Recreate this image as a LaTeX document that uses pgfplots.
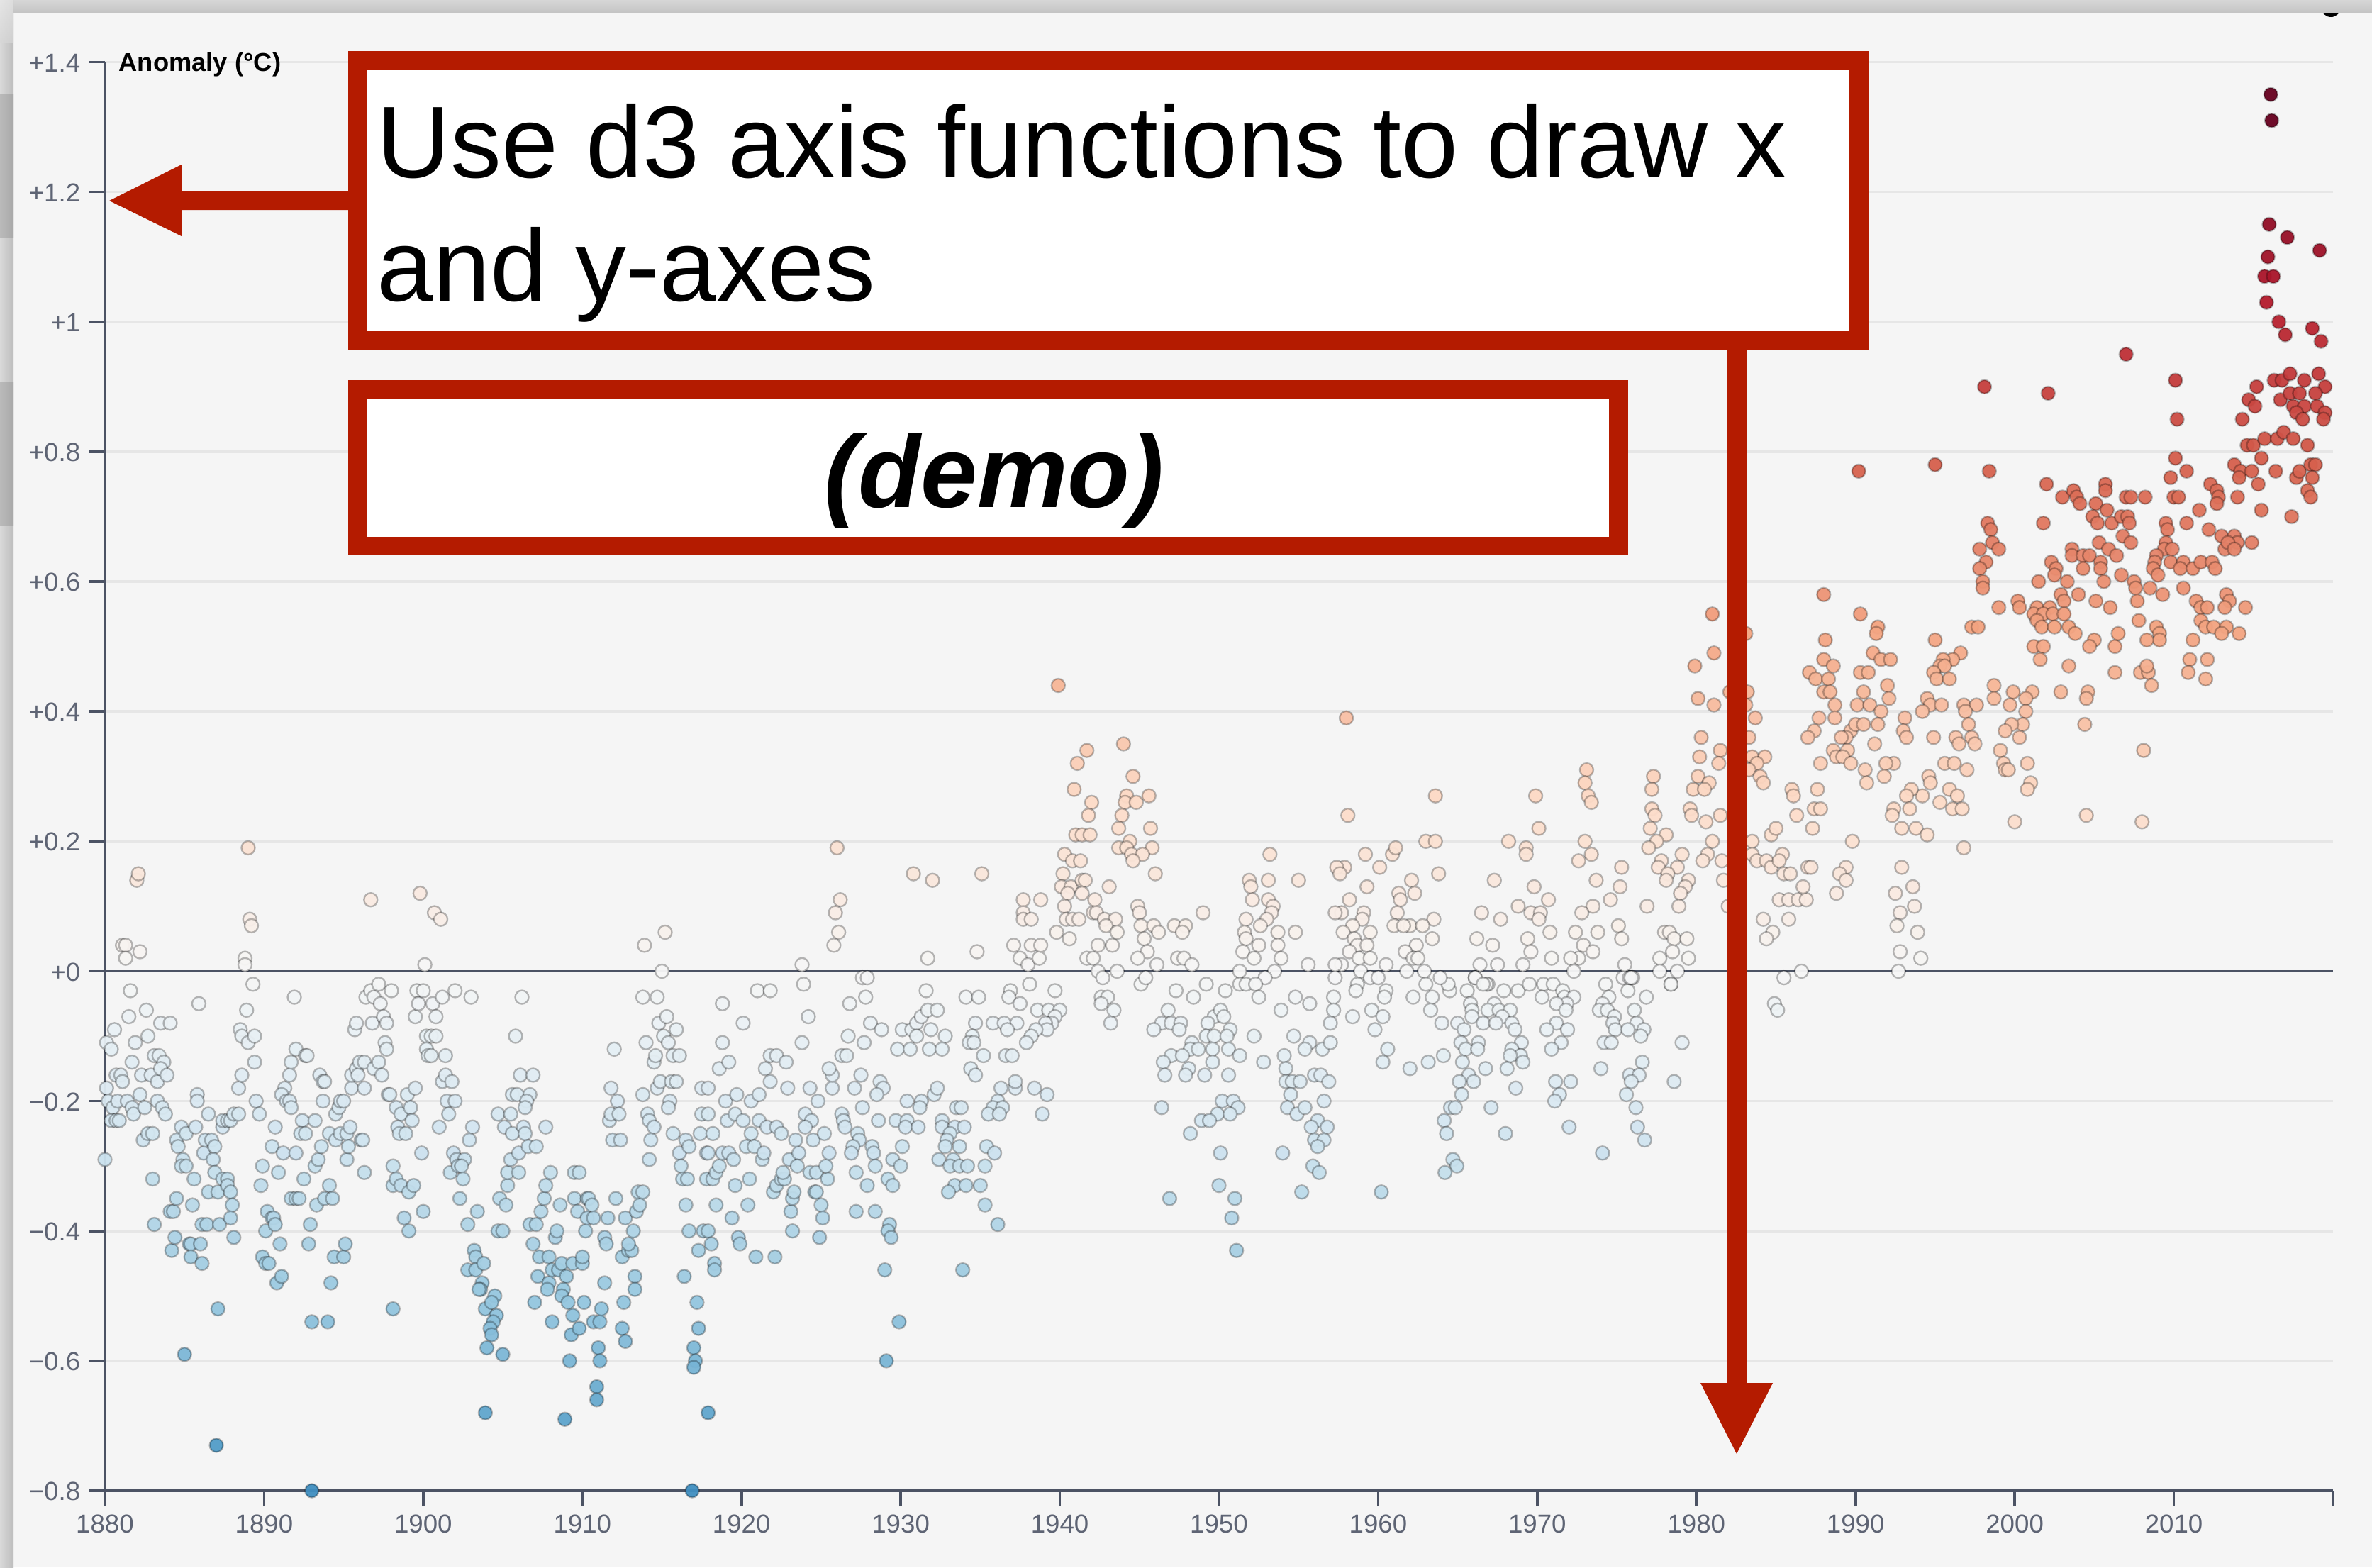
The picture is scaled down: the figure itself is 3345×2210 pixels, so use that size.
\documentclass[border=0pt]{standalone}
\usepackage{pgfplots}
\pgfplotsset{compat=1.18}
\usepackage{fontspec}
\setmainfont{Liberation Sans}
\definecolor{panel}{HTML}{F5F5F5}
\definecolor{axc}{HTML}{4C5364}
\definecolor{gridc}{HTML}{E6E6E6}
\definecolor{annot}{HTML}{B41B00}
\begin{document}
\begin{tikzpicture}[x=0.3pt,y=-0.3pt]
\path[use as bounding box] (0,0) rectangle (3345,2210);
\clip (0,0) rectangle (3345,2210);
\fill[panel] (0,0) rectangle (3345,2210);
\fill[black] (3287,10) circle (14);
\shade[top color=white!84!black,bottom color=white!77!black] (0,0) rectangle (3345,17);
\shade[left color=white!85!black,right color=white!74!black] (0,0) rectangle (19,2210);
\shade[left color=white!73!black,right color=white!66!black] (0,133) rectangle (19,335);
\shade[left color=white!73!black,right color=white!66!black] (0,538) rectangle (19,741);
\shade[top color=white!92!black,bottom color=white!84!black,opacity=0.7] (0,0) rectangle (19,60);
\begin{axis}[
  at={(44.4pt,-630.6pt)}, anchor=south west, scale only axis,
  width=942.6pt, height=604.35pt,
  xmin=1880, xmax=2020, ymin=-0.8, ymax=1.4,
  axis x line*=bottom, axis y line*=left,
  axis line style={axc,line width=1.1pt,-},
  xtick={1880,1890,1900,1910,1920,1930,1940,1950,1960,1970,1980,1990,2000,2010,2020},
  xticklabels={1880,1890,1900,1910,1920,1930,1940,1950,1960,1970,1980,1990,2000,2010,{}},
  ytick={-0.8,-0.6,-0.4,-0.2,0,0.2,0.4,0.6,0.8,1,1.2,1.4},
  yticklabels={−0.8,−0.6,−0.4,−0.2,+0,+0.2,+0.4,+0.6,+0.8,+1,+1.2,+1.4},
  tick align=outside, major tick length=6.6pt,
  tick style={axc,line width=1.1pt},
  ticklabel style={font=\fontsize{11}{12}\selectfont,text=axc!90!white},
  xticklabel style={yshift=0pt}, yticklabel style={xshift=-0.3pt,yshift=-0.3pt},
  ymajorgrids, grid style={gridc,line width=1.1pt},
  clip=false,
  colormap={rdbu}{rgb255(0cm)=(5,48,97); rgb255(1cm)=(33,102,172); rgb255(2cm)=(67,147,195); rgb255(3cm)=(146,197,222); rgb255(4cm)=(209,229,240); rgb255(5cm)=(247,247,247); rgb255(6cm)=(253,219,199); rgb255(7cm)=(244,165,130); rgb255(8cm)=(214,96,77); rgb255(9cm)=(178,24,43); rgb255(10cm)=(103,0,31)},
  point meta min=-1.3, point meta max=1.3,
]
\addplot[axc,line width=1.1pt,no marks,forget plot] coordinates {(1880,0)(2020,0)};
\addplot[scatter,only marks,mark=*,mark size=2.85pt,point meta=y,
  scatter/use mapped color={draw=black,draw opacity=0.27,fill=mapped color,fill opacity=0.95},
  mark options={line width=0.7pt}] coordinates {
(1880.0,-0.29)(1880.1,-0.18)(1880.1,-0.11)(1880.4,-0.12)(1880.2,-0.20)(1880.5,-0.21)(1880.4,-0.23)(1880.6,-0.09)(1880.7,-0.23)(1880.9,-0.23)(1880.8,-0.20)
(1880.7,-0.16)(1881.0,-0.16)(1881.1,-0.17)(1881.1,0.04)(1881.3,0.04)(1881.3,0.02)(1881.5,-0.07)(1881.6,-0.03)(1881.7,-0.14)(1881.9,-0.11)(1881.4,-0.20)(1881.7,-0.21)(1881.8,-0.22)
(1882.0,0.14)(1882.1,0.15)(1882.2,0.03)(1882.6,-0.06)(1882.7,-0.10)(1882.3,-0.16)(1882.2,-0.19)(1882.5,-0.21)(1882.4,-0.26)(1882.7,-0.25)(1883.0,-0.25)(1882.9,-0.16)
(1883.0,-0.32)(1883.1,-0.39)(1883.1,-0.13)(1883.4,-0.13)(1883.5,-0.08)(1883.3,-0.17)(1883.3,-0.20)(1883.6,-0.21)(1883.8,-0.22)(1883.7,-0.14)(1883.5,-0.15)(1883.9,-0.16)(1884.1,-0.08)
(1884.1,-0.37)(1884.3,-0.37)(1884.5,-0.35)(1884.2,-0.43)(1884.4,-0.41)(1884.8,-0.24)(1884.5,-0.26)(1884.6,-0.27)(1884.9,-0.29)(1884.8,-0.30)(1885.1,-0.30)(1885.1,-0.25)(1885.6,-0.32)
(1885.0,-0.59)(1885.3,-0.42)(1885.4,-0.42)(1885.4,-0.44)(1885.5,-0.36)(1885.7,-0.24)(1885.8,-0.19)(1885.8,-0.20)(1885.9,-0.05)(1886.0,-0.42)
(1886.1,-0.39)(1886.4,-0.39)(1886.1,-0.45)(1886.2,-0.28)(1886.3,-0.26)(1886.7,-0.26)(1886.5,-0.22)(1886.9,-0.27)(1886.8,-0.29)(1886.9,-0.31)(1886.5,-0.34)
(1887.1,-0.52)(1887.0,-0.73)(1887.1,-0.34)(1887.2,-0.39)(1887.4,-0.32)(1887.7,-0.32)(1887.4,-0.24)(1887.4,-0.23)(1887.7,-0.23)(1887.9,-0.23)(1888.1,-0.22)(1888.4,-0.22)(1887.7,-0.33)(1887.9,-0.34)(1888.0,-0.36)(1887.9,-0.38)(1888.1,-0.41)
(1888.4,-0.18)(1888.6,-0.16)(1888.5,-0.09)(1888.6,-0.10)(1889.0,-0.11)(1888.9,-0.06)(1888.8,0.02)(1888.8,0.01)
(1889.0,0.19)(1889.1,0.08)(1889.2,0.07)(1889.3,-0.02)(1889.4,-0.10)(1889.4,-0.14)(1889.5,-0.20)(1889.7,-0.22)(1889.8,-0.33)(1889.9,-0.30)
(1890.1,-0.40)(1889.9,-0.44)(1890.1,-0.45)(1890.3,-0.45)(1890.2,-0.37)(1890.5,-0.38)(1890.6,-0.38)(1890.7,-0.39)(1890.5,-0.27)(1890.7,-0.24)(1890.9,-0.31)(1891.0,-0.42)(1890.8,-0.48)(1891.1,-0.47)(1891.2,-0.28)
(1891.3,-0.18)(1891.1,-0.19)(1891.4,-0.20)(1891.6,-0.16)(1891.7,-0.14)(1891.6,-0.20)(1891.7,-0.21)(1891.9,-0.04)(1892.0,-0.12)(1891.7,-0.35)(1892.0,-0.35)(1892.2,-0.35)(1892.0,-0.28)
(1892.6,-0.13)(1892.7,-0.13)(1892.4,-0.23)(1892.3,-0.25)(1892.6,-0.25)(1892.5,-0.32)(1892.8,-0.42)(1892.9,-0.39)(1893.0,-0.54)(1893.0,-0.80)(1893.2,-0.23)
(1893.3,-0.36)(1893.2,-0.30)(1893.4,-0.29)(1893.6,-0.27)(1893.5,-0.16)(1893.7,-0.17)(1893.8,-0.17)(1893.7,-0.20)(1894.1,-0.25)(1894.0,-0.54)(1894.2,-0.48)(1894.4,-0.44)(1894.1,-0.33)(1893.8,-0.35)(1894.3,-0.35)
(1894.5,-0.26)(1894.5,-0.22)(1894.7,-0.21)(1894.8,-0.20)(1895.0,-0.20)(1894.8,-0.25)(1895.2,-0.25)(1895.0,-0.44)(1895.1,-0.42)
(1895.2,-0.29)(1895.3,-0.27)(1895.4,-0.24)(1895.5,-0.18)(1895.7,-0.09)(1895.8,-0.08)(1895.5,-0.16)(1895.8,-0.15)(1895.9,-0.16)(1896.0,-0.14)(1896.3,-0.14)(1896.3,-0.18)(1896.1,-0.26)(1896.3,-0.31)(1896.2,-0.26)
(1896.4,-0.04)(1896.7,-0.03)(1896.9,-0.04)(1896.8,-0.08)(1896.7,0.11)(1896.9,-0.15)(1897.2,-0.14)(1897.2,-0.02)(1897.3,-0.05)(1897.4,-0.16)(1897.5,-0.07)(1897.7,-0.08)(1897.6,-0.11)(1897.7,-0.12)(1898.0,-0.03)(1897.8,-0.19)(1897.9,-0.19)
(1898.1,-0.52)(1898.1,-0.30)(1898.1,-0.33)(1898.3,-0.32)(1898.3,-0.21)(1898.6,-0.22)(1898.4,-0.24)(1898.5,-0.25)(1898.9,-0.25)(1898.6,-0.33)(1898.8,-0.38)(1899.1,-0.40)(1899.0,-0.19)(1899.2,-0.21)(1899.3,-0.23)(1899.1,-0.34)(1899.4,-0.33)
(1899.5,-0.07)(1899.6,-0.03)(1899.7,-0.05)(1899.8,0.12)(1900.1,0.01)(1900.0,-0.03)(1899.5,-0.18)(1899.9,-0.28)(1900.0,-0.37)(1900.2,-0.10)(1900.5,-0.10)(1900.8,-0.10)(1900.2,-0.12)(1900.3,-0.13)(1900.5,-0.13)(1900.6,-0.05)(1900.7,0.09)(1901.1,0.08)(1900.8,-0.07)(1901.2,-0.04)(1901.0,-0.24)(1901.4,-0.13)
(1901.2,-0.17)(1901.4,-0.16)(1901.8,-0.17)(1901.5,-0.20)(1902.0,-0.20)(1901.6,-0.22)(1901.9,-0.28)(1902.0,-0.03)(1902.1,-0.29)(1902.6,-0.29)(1901.7,-0.31)(1902.2,-0.30)(1902.4,-0.30)(1902.5,-0.32)(1902.3,-0.35)(1903.0,-0.04)
(1903.1,-0.24)(1902.9,-0.26)(1903.4,-0.37)(1902.8,-0.39)(1903.2,-0.43)(1903.3,-0.44)(1902.8,-0.46)(1903.3,-0.46)(1903.8,-0.45)(1903.7,-0.48)(1903.6,-0.49)(1903.5,-0.49)(1903.9,-0.52)
(1904.5,-0.50)(1904.3,-0.51)(1904.6,-0.53)(1904.4,-0.54)(1904.2,-0.55)(1904.3,-0.56)(1904.0,-0.58)(1903.9,-0.68)(1905.0,-0.59)
(1904.7,-0.22)(1905.1,-0.24)(1905.5,-0.22)(1905.6,-0.25)(1904.8,-0.35)(1905.2,-0.36)(1905.3,-0.33)(1905.3,-0.31)(1905.5,-0.29)(1904.7,-0.40)(1905.0,-0.40)(1906.0,-0.28)(1905.8,-0.10)(1906.2,-0.04)(1905.6,-0.19)(1905.9,-0.19)(1906.0,-0.31)
(1906.1,-0.16)(1906.9,-0.16)(1906.7,-0.19)(1906.5,-0.20)(1906.4,-0.21)(1906.3,-0.24)(1906.4,-0.25)(1906.6,-0.27)(1907.1,-0.27)(1906.7,-0.39)(1907.1,-0.39)(1906.9,-0.42)(1907.3,-0.44)(1907.2,-0.47)(1907.0,-0.51)(1907.4,-0.37)(1907.6,-0.35)(1907.7,-0.33)(1907.7,-0.24)(1908.0,-0.31)
(1907.9,-0.44)(1908.1,-0.54)(1907.9,-0.48)(1907.8,-0.49)(1908.3,-0.41)(1908.4,-0.40)(1908.6,-0.36)(1908.1,-0.46)(1908.5,-0.46)(1908.7,-0.45)(1909.0,-0.47)(1908.8,-0.49)(1908.7,-0.50)(1909.1,-0.51)(1909.4,-0.53)(1909.3,-0.56)(1908.9,-0.69)(1909.2,-0.60)
(1909.5,-0.31)(1909.8,-0.31)(1909.5,-0.35)(1909.7,-0.37)(1910.2,-0.40)(1910.3,-0.35)(1910.4,-0.35)(1910.6,-0.36)(1910.3,-0.38)(1910.7,-0.38)(1909.4,-0.45)(1910.0,-0.45)(1910.0,-0.44)(1910.1,-0.51)(1909.8,-0.55)(1910.7,-0.54)(1911.1,-0.54)(1911.2,-0.52)(1911.4,-0.48)(1911.0,-0.58)(1911.1,-0.60)(1910.9,-0.64)(1910.9,-0.66)
(1911.4,-0.41)(1911.5,-0.42)(1911.6,-0.38)(1911.7,-0.23)(1911.8,-0.22)(1911.8,-0.18)(1912.0,-0.12)(1912.2,-0.20)(1912.3,-0.22)(1911.9,-0.26)(1912.4,-0.26)(1912.1,-0.35)(1912.5,-0.44)(1912.6,-0.51)(1912.5,-0.55)(1912.7,-0.57)(1912.7,-0.38)(1912.9,-0.43)(1913.1,-0.43)(1912.9,-0.42)(1913.2,-0.40)(1913.3,-0.47)(1913.3,-0.49)(1913.4,-0.37)(1913.6,-0.36)(1913.5,-0.34)(1913.8,-0.34)
(1913.8,-0.19)(1913.8,-0.04)(1913.9,0.04)(1914.0,-0.11)(1914.1,-0.22)(1914.2,-0.23)(1914.5,-0.24)(1914.3,-0.26)(1914.2,-0.29)(1914.5,-0.14)(1914.6,-0.13)(1914.7,-0.04)(1914.8,-0.08)
(1915.2,0.06)(1915.0,0.00)(1915.3,-0.07)(1915.1,-0.10)(1914.7,-0.18)(1914.9,-0.17)(1915.4,-0.11)(1915.5,-0.20)(1915.4,-0.21)(1915.7,-0.13)(1915.9,-0.09)(1916.1,-0.13)(1915.6,-0.17)(1915.9,-0.17)(1915.7,-0.25)
(1916.1,-0.28)(1916.2,-0.30)(1916.3,-0.32)(1916.6,-0.32)(1916.5,-0.36)(1916.5,-0.26)(1916.7,-0.27)(1916.7,-0.40)(1917.3,-0.43)(1916.4,-0.47)(1917.2,-0.51)(1917.3,-0.55)(1917.0,-0.58)(1917.1,-0.60)(1917.0,-0.61)(1916.9,-0.80)(1917.9,-0.68)(1917.4,-0.25)(1917.5,-0.18)(1917.5,-0.22)(1917.8,-0.28)(1917.8,-0.32)(1917.6,-0.40)
(1918.3,-0.45)(1918.3,-0.46)(1917.9,-0.40)(1918.1,-0.42)(1919.8,-0.41)(1919.9,-0.42)(1920.9,-0.44)(1922.1,-0.44)(1918.4,-0.36)(1919.4,-0.38)(1920.4,-0.36)(1919.6,-0.33)(1920.5,-0.32)(1918.2,-0.32)(1918.4,-0.31)(1918.6,-0.30)(1917.9,-0.28)(1918.8,-0.28)(1919.2,-0.28)(1919.5,-0.29)(1918.2,-0.25)(1917.9,-0.22)(1919.1,-0.23)(1919.6,-0.22)(1920.1,-0.23)(1920.6,-0.25)(1920.3,-0.27)(1920.8,-0.27)(1921.3,-0.29)(1921.4,-0.28)(1921.1,-0.23)(1921.6,-0.24)(1922.2,-0.24)(1922.5,-0.25)(1919.0,-0.20)(1919.7,-0.19)(1920.6,-0.20)(1921.1,-0.19)(1917.9,-0.18)(1918.6,-0.15)(1919.2,-0.14)(1918.8,-0.11)(1920.1,-0.08)(1918.8,-0.05)(1921.0,-0.03)(1921.8,-0.03)
(1921.5,-0.15)(1921.8,-0.13)(1922.2,-0.13)(1922.8,-0.14)(1921.8,-0.17)(1922.9,-0.18)
(1922.0,-0.34)(1922.2,-0.33)(1922.5,-0.32)(1922.7,-0.32)(1922.6,-0.31)(1923.0,-0.29)(1923.6,-0.28)(1923.5,-0.30)(1923.4,-0.26)(1924.0,-0.22)(1924.4,-0.23)(1924.0,-0.24)(1924.5,-0.26)(1925.2,-0.25)(1924.8,-0.20)(1924.3,-0.18)(1923.2,-0.40)(1923.1,-0.37)(1923.2,-0.35)(1923.3,-0.34)(1924.6,-0.34)(1924.7,-0.34)(1925.0,-0.36)(1925.1,-0.38)(1924.9,-0.41)(1924.3,-0.31)(1924.7,-0.31)(1925.4,-0.32)(1925.3,-0.30)(1925.5,-0.28)
(1925.7,-0.18)(1925.7,-0.16)(1925.5,-0.15)(1923.8,-0.11)(1924.2,-0.07)(1923.9,-0.02)(1923.8,0.01)(1926.0,0.19)(1926.2,0.11)(1925.9,0.09)(1926.1,0.06)(1925.8,0.04)
(1926.3,-0.13)(1926.6,-0.13)(1926.7,-0.10)(1927.7,-0.11)(1926.8,-0.05)(1927.8,-0.04)(1928.1,-0.08)(1928.8,-0.09)(1927.5,-0.16)(1927.1,-0.18)(1928.7,-0.17)(1928.9,-0.18)(1928.5,-0.19)
(1926.3,-0.22)(1926.4,-0.23)(1926.5,-0.24)(1927.6,-0.21)(1928.6,-0.23)(1927.3,-0.25)(1927.4,-0.26)(1927.0,-0.27)(1926.9,-0.28)(1928.2,-0.27)(1928.3,-0.28)(1928.4,-0.30)(1927.2,-0.31)(1927.9,-0.33)(1927.2,-0.37)(1928.4,-0.37)(1929.2,-0.32)(1929.5,-0.33)(1929.5,-0.29)(1930.0,-0.30)(1930.1,-0.27)(1929.7,-0.23)(1930.4,-0.23)(1930.3,-0.24)(1929.3,-0.39)(1929.2,-0.40)(1929.4,-0.41)(1929.0,-0.46)(1929.9,-0.54)(1929.1,-0.60)
(1927.6,-0.01)(1927.9,-0.01)(1930.8,0.15)(1932.0,0.14)(1935.1,0.15)(1931.7,0.02)(1934.8,0.03)(1931.6,-0.03)(1930.4,-0.20)(1931.3,-0.20)(1931.2,-0.21)(1931.1,-0.24)(1932.1,-0.19)(1932.3,-0.18)(1930.1,-0.09)(1930.7,-0.09)(1931.0,-0.08)(1931.3,-0.07)(1931.7,-0.06)(1932.3,-0.06)(1931.9,-0.09)(1932.8,-0.10)(1931.0,-0.10)(1929.8,-0.12)(1930.6,-0.12)(1931.8,-0.12)(1932.6,-0.12)
(1932.6,-0.23)(1932.6,-0.24)(1933.5,-0.21)(1933.8,-0.21)(1933.4,-0.24)(1934.0,-0.24)(1933.1,-0.25)(1932.9,-0.26)(1932.8,-0.27)(1933.7,-0.27)(1932.4,-0.29)(1933.3,-0.29)(1933.1,-0.30)(1933.7,-0.30)(1934.2,-0.30)(1933.4,-0.33)(1933.0,-0.34)(1934.1,-0.33)(1935.0,-0.33)(1935.4,-0.27)(1935.9,-0.28)(1935.3,-0.30)(1935.3,-0.36)(1936.1,-0.39)(1933.9,-0.46)
(1934.1,-0.04)(1934.9,-0.04)(1934.7,-0.08)(1935.8,-0.08)(1936.5,-0.08)(1937.3,-0.08)(1936.7,-0.09)(1934.5,-0.10)(1934.3,-0.11)(1934.6,-0.11)(1935.2,-0.13)(1934.4,-0.15)(1934.7,-0.16)(1936.6,-0.13)(1937.0,-0.13)
(1936.3,-0.18)(1937.2,-0.18)(1937.2,-0.17)(1938.4,-0.18)(1939.2,-0.19)(1936.1,-0.20)(1935.8,-0.21)(1935.5,-0.22)(1936.4,-0.21)(1936.2,-0.22)(1938.9,-0.22)
(1936.9,-0.03)(1936.8,-0.04)(1937.5,-0.05)(1938.1,-0.02)(1939.7,-0.03)(1938.6,-0.06)(1939.3,-0.06)(1940.0,-0.06)(1939.7,-0.07)(1939.5,-0.08)(1939.1,-0.08)(1939.2,-0.09)(1938.5,-0.09)(1938.2,-0.10)(1937.9,-0.11)
(1937.1,0.04)(1937.5,0.02)(1938.0,0.01)(1938.7,0.02)(1938.2,0.04)(1938.8,0.04)(1937.7,0.11)(1938.8,0.11)(1937.7,0.09)(1937.7,0.08)(1938.2,0.08)
(1939.9,0.44)(1941.1,0.32)(1941.7,0.34)(1940.9,0.28)(1942.0,0.26)(1941.8,0.24)(1941.0,0.21)(1941.4,0.21)(1941.9,0.21)(1940.3,0.18)(1940.8,0.17)(1941.3,0.17)(1940.2,0.15)(1940.1,0.13)(1940.7,0.13)(1940.5,0.12)(1941.4,0.14)(1941.6,0.14)(1941.4,0.12)(1942.2,0.11)(1940.3,0.10)(1939.8,0.06)(1940.4,0.08)(1940.8,0.08)(1941.2,0.08)(1940.6,0.05)(1942.1,0.09)(1942.3,0.09)(1941.7,0.02)(1942.1,0.02)(1942.4,0.04)(1943.3,0.04)(1943.1,0.13)
(1944.0,0.35)(1944.6,0.30)(1944.2,0.27)(1944.1,0.26)(1944.8,0.26)(1945.6,0.27)(1943.9,0.24)(1943.7,0.22)(1945.7,0.22)(1944.4,0.20)(1943.7,0.19)(1944.2,0.19)(1945.8,0.19)(1944.5,0.18)(1945.2,0.18)(1944.6,0.17)(1946.0,0.15)(1944.9,0.10)(1945.0,0.09)(1945.1,0.07)(1945.9,0.07)(1946.2,0.06)(1945.3,0.05)(1945.5,0.03)(1944.9,0.02)(1946.1,0.01)(1942.8,0.08)(1943.5,0.08)(1942.9,0.07)(1943.6,0.06)(1942.4,0.00)(1943.6,0.00)(1942.7,-0.01)(1945.1,-0.02)(1945.4,-0.01)(1942.6,-0.04)(1943.0,-0.04)(1942.6,-0.05)(1943.4,-0.06)(1943.2,-0.08)
(1947.2,0.07)(1947.9,0.07)(1947.7,0.06)(1949.0,0.09)(1947.4,0.02)(1947.8,0.02)(1948.3,0.01)(1947.3,-0.03)(1948.4,-0.04)(1949.2,-0.02)(1950.4,-0.03)(1946.8,-0.06)(1946.4,-0.08)(1945.9,-0.09)(1947.0,-0.08)(1947.6,-0.08)(1947.5,-0.09)(1949.7,-0.07)(1950.1,-0.06)(1950.3,-0.07)(1949.3,-0.08)(1950.7,-0.09)
(1948.3,-0.11)(1949.2,-0.10)(1949.7,-0.10)(1950.5,-0.10)(1948.2,-0.12)(1948.7,-0.12)(1949.6,-0.12)(1950.6,-0.12)(1951.3,-0.13)(1947.0,-0.13)(1947.7,-0.13)(1946.5,-0.14)(1949.6,-0.14)(1948.1,-0.15)(1946.6,-0.16)(1947.9,-0.16)(1949.1,-0.16)(1950.6,-0.16)
(1946.4,-0.21)(1950.2,-0.20)(1950.9,-0.20)(1951.2,-0.21)(1949.9,-0.22)(1950.7,-0.22)(1948.9,-0.23)(1949.4,-0.23)(1948.2,-0.25)(1950.1,-0.28)(1950.0,-0.33)(1946.9,-0.35)(1951.0,-0.35)(1950.8,-0.38)(1951.1,-0.43)
(1951.9,0.14)(1952.0,0.13)(1952.1,0.11)(1953.2,0.18)(1953.1,0.14)(1955.0,0.14)(1953.1,0.11)(1953.4,0.10)(1953.3,0.09)(1953.0,0.08)(1951.7,0.08)(1952.6,0.07)(1951.6,0.06)(1953.7,0.06)(1954.8,0.06)(1951.7,0.05)(1952.5,0.04)(1953.7,0.04)(1951.5,0.03)(1952.2,0.02)(1953.9,0.02)(1955.6,0.01)(1951.3,0.00)(1953.5,0.00)(1952.9,-0.01)(1951.3,-0.02)(1951.7,-0.02)(1952.3,-0.02)(1952.5,-0.04)
(1954.8,-0.04)(1955.7,-0.05)(1953.9,-0.06)(1952.2,-0.10)(1954.7,-0.10)(1955.7,-0.11)(1955.4,-0.12)(1956.5,-0.12)(1957.0,-0.11)(1952.8,-0.14)(1954.1,-0.13)(1954.2,-0.15)(1954.2,-0.17)(1954.6,-0.17)(1955.1,-0.17)(1956.0,-0.16)(1956.4,-0.16)(1956.9,-0.17)(1954.5,-0.19)(1954.3,-0.21)(1954.9,-0.22)(1955.4,-0.21)(1956.6,-0.20)(1956.2,-0.23)(1955.8,-0.24)(1956.8,-0.24)(1956.0,-0.26)(1956.6,-0.26)(1956.2,-0.27)(1954.0,-0.28)(1955.9,-0.30)(1956.3,-0.31)(1955.2,-0.34)(1960.2,-0.34)
(1957.3,-0.01)(1957.7,0.01)(1957.3,0.01)(1957.2,-0.04)(1957.2,-0.06)(1957.0,-0.08)(1958.4,-0.07)(1959.6,-0.06)(1960.3,-0.07)(1959.8,-0.09)(1960.6,-0.12)(1960.3,-0.14)(1962.0,-0.15)
(1958.0,0.39)(1958.1,0.24)(1957.9,0.16)(1957.4,0.16)(1957.6,0.15)(1959.2,0.18)(1960.1,0.16)(1960.9,0.18)(1961.1,0.19)(1959.3,0.13)(1958.2,0.11)(1957.7,0.09)(1957.3,0.09)(1959.1,0.09)(1959.0,0.08)(1958.4,0.07)(1957.8,0.06)(1959.5,0.06)(1958.5,0.05)(1958.7,0.04)(1959.3,0.04)(1958.2,0.03)(1958.8,0.02)(1959.5,0.02)(1960.5,0.01)(1958.9,0.00)(1959.5,-0.01)(1960.0,-0.01)(1958.7,-0.02)(1958.6,-0.03)(1960.5,-0.03)(1960.4,-0.04)(1962.2,-0.04)
(1961.3,0.12)(1961.4,0.11)(1962.1,0.14)(1962.3,0.12)(1961.2,0.09)(1961.0,0.07)(1962.0,0.07)(1961.6,0.07)(1962.4,0.04)(1961.7,0.03)(1962.2,0.02)(1961.8,0.00)
(1963.6,0.27)(1963.0,0.20)(1963.6,0.20)(1963.8,0.15)(1963.5,0.08)(1962.8,0.07)(1963.4,0.05)(1962.5,0.02)(1962.9,0.00)(1966.4,0.01)(1967.5,0.01)(1966.1,-0.01)(1966.9,-0.02)(1969.1,0.01)
(1963.0,-0.02)(1963.4,-0.04)(1963.3,-0.06)(1964.0,-0.08)(1964.5,-0.03)(1964.4,-0.02)(1963.9,-0.01)(1964.1,-0.13)(1963.15,-0.14)(1965.6,-0.03)(1966.1,-0.01)(1966.8,-0.02)(1966.6,-0.02)(1967.9,-0.03)(1968.8,-0.03)(1969.5,-0.02)(1970.4,-0.02)(1971.0,-0.02)(1971.6,-0.03)(1970.3,-0.04)(1971.7,-0.04)(1972.3,-0.04)(1965.8,-0.05)(1967.3,-0.05)(1965.9,-0.06)(1966.9,-0.06)(1967.6,-0.06)(1968.3,-0.06)(1971.85,-0.05)(1971.2,-0.05)(1971.8,-0.06)(1965.9,-0.07)(1967.8,-0.07)(1965.0,-0.08)(1966.6,-0.08)(1967.4,-0.08)(1968.4,-0.08)(1965.4,-0.09)(1968.6,-0.09)(1971.2,-0.08)(1970.6,-0.09)(1971.9,-0.09)
(1965.2,-0.11)(1966.3,-0.11)(1969.0,-0.11)(1965.5,-0.12)(1966.25,-0.12)(1968.4,-0.12)(1971.5,-0.11)(1970.9,-0.12)(1968.95,-0.13)(1968.3,-0.13)(1965.3,-0.14)(1969.1,-0.14)(1966.75,-0.15)(1968.1,-0.15)(1965.7,-0.16)(1965.1,-0.17)(1966.0,-0.17)(1968.65,-0.18)(1971.15,-0.17)(1972.1,-0.17)(1965.25,-0.19)(1971.4,-0.19)(1971.1,-0.20)(1964.55,-0.21)(1964.85,-0.21)(1967.1,-0.21)(1964.15,-0.23)(1964.3,-0.25)(1968.0,-0.25)(1972.0,-0.24)(1964.7,-0.29)(1964.95,-0.30)(1964.2,-0.31)
(1974.3,-0.02)(1975.7,-0.03)(1976.85,-0.04)(1978.4,-0.02)(1975.4,-0.01)(1976.0,-0.01)(1974.5,-0.04)(1974.1,-0.05)(1973.9,-0.06)(1974.4,-0.06)(1976.1,-0.06)(1974.85,-0.07)(1976.25,-0.08)(1974.75,-0.08)(1974.9,-0.09)(1975.7,-0.09)(1976.7,-0.09)(1976.5,-0.10)(1974.2,-0.11)(1974.65,-0.11)(1979.1,-0.11)(1976.6,-0.14)(1974.0,-0.15)(1975.8,-0.16)(1976.4,-0.16)(1975.9,-0.17)(1978.6,-0.17)(1975.6,-0.19)(1976.2,-0.21)(1976.3,-0.24)(1976.75,-0.26)(1974.1,-0.28)
(1968.2,0.20)(1969.3,0.19)(1969.3,0.18)(1970.1,0.22)(1969.9,0.27)(1967.3,0.14)(1969.8,0.13)(1970.7,0.11)(1968.8,0.10)(1966.5,0.09)(1967.7,0.08)(1969.6,0.09)(1970.2,0.09)(1970.1,0.08)(1970.8,0.06)(1966.2,0.05)(1967.2,0.04)(1969.4,0.05)(1969.6,0.03)(1970.9,0.02)
(1973.0,0.20)(1973.4,0.18)(1972.6,0.17)(1973.1,0.31)(1973.0,0.29)(1973.2,0.27)(1973.4,0.26)(1975.3,0.16)(1973.7,0.14)(1975.2,0.13)(1974.6,0.11)(1973.5,0.10)(1972.8,0.09)(1975.1,0.07)(1972.4,0.06)(1973.8,0.06)(1975.3,0.05)(1972.9,0.04)(1973.5,0.03)(1972.6,0.02)(1972.1,0.02)(1972.3,0.00)(1975.5,0.01)(1975.8,-0.01)
(1977.3,0.30)(1977.2,0.28)(1977.2,0.25)(1977.4,0.24)(1977.1,0.22)(1978.1,0.21)(1977.5,0.20)(1977.0,0.19)(1979.1,0.18)(1977.8,0.17)(1978.8,0.16)(1977.6,0.16)(1978.2,0.15)(1978.1,0.14)(1979.5,0.14)(1979.3,0.13)(1979.0,0.12)(1976.9,0.10)(1978.9,0.10)(1978.0,0.06)(1978.3,0.06)(1978.6,0.05)(1979.4,0.05)(1978.5,0.03)(1977.7,0.02)(1979.5,0.02)(1977.7,0.00)(1978.8,0.00)(1978.4,-0.02)(1975.9,-0.01)
(1981.0,0.55)(1981.1,0.49)(1979.9,0.47)(1980.1,0.42)(1981.1,0.41)(1982.1,0.43)(1983.2,0.43)(1983.1,0.41)(1983.7,0.39)(1980.3,0.36)(1983.3,0.36)(1981.5,0.34)(1980.2,0.33)(1983.5,0.33)(1984.3,0.33)(1981.4,0.32)(1983.8,0.32)(1983.3,0.31)(1980.1,0.30)(1984.0,0.30)(1984.2,0.29)(1980.8,0.29)(1979.8,0.28)(1980.5,0.28)(1979.6,0.25)(1979.7,0.24)(1981.5,0.24)(1980.6,0.23)(1981.0,0.20)(1980.7,0.18)(1980.4,0.17)(1981.6,0.17)(1981.7,0.14)(1982.0,0.10)(1983.1,0.52)
(1983.5,0.20)(1984.7,0.21)(1985.0,0.22)(1983.5,0.18)(1983.8,0.17)(1984.4,0.17)(1985.4,0.18)(1984.7,0.16)(1985.2,0.17)(1985.5,0.15)(1985.9,0.15)(1984.2,0.08)(1985.8,0.08)(1985.2,0.11)(1985.8,0.11)(1986.4,0.11)(1986.9,0.11)(1986.7,0.13)(1987.0,0.16)(1987.2,0.16)(1984.8,0.06)(1984.4,0.05)(1986.6,0.00)(1985.5,-0.01)(1984.9,-0.05)(1985.1,-0.06)
(1986.0,0.28)(1986.1,0.27)(1987.6,0.28)(1986.3,0.24)(1987.4,0.25)(1987.8,0.25)(1987.3,0.22)(1989.8,0.20)(1989.4,0.16)(1989.0,0.15)(1989.4,0.14)(1988.8,0.12)
(1988.0,0.58)(1988.1,0.51)(1988.0,0.48)(1988.6,0.47)(1987.1,0.46)(1987.5,0.45)(1988.3,0.45)(1990.3,0.46)(1990.8,0.46)(1988.0,0.43)(1988.4,0.43)(1988.7,0.41)(1988.7,0.39)(1987.7,0.39)(1987.4,0.37)(1987.0,0.36)(1989.7,0.37)(1990.0,0.38)(1989.4,0.36)(1989.1,0.36)(1988.6,0.34)(1989.5,0.34)(1988.8,0.33)(1989.2,0.33)(1987.8,0.32)(1989.7,0.32)(1990.6,0.31)(1990.7,0.29)
(1990.3,0.55)(1991.4,0.53)(1991.3,0.52)(1991.1,0.49)(1991.6,0.48)(1992.2,0.48)(1992.0,0.44)(1990.5,0.43)(1992.1,0.42)(1990.1,0.41)(1990.9,0.41)(1991.6,0.40)(1993.1,0.39)(1990.5,0.38)(1991.4,0.38)(1991.2,0.35)(1993.0,0.37)(1993.2,0.36)(1992.4,0.32)(1991.9,0.32)(1991.8,0.30)
(1995.0,0.51)(1996.6,0.49)(1996.1,0.48)(1995.5,0.48)(1995.3,0.47)(1995.6,0.47)(1994.9,0.46)(1995.1,0.45)(1995.9,0.45)(1994.5,0.42)(1994.7,0.41)(1995.4,0.41)(1994.2,0.40)(1994.9,0.36)(1996.3,0.36)(1996.5,0.35)(1995.6,0.32)(1996.2,0.32)(1994.6,0.30)(1994.7,0.29)(1994.2,0.27)(1993.5,0.28)(1993.2,0.27)(1997.0,0.31)
(1992.4,0.25)(1992.3,0.24)(1993.4,0.25)(1992.9,0.22)(1993.8,0.22)(1994.5,0.21)(1995.9,0.28)(1996.4,0.27)(1995.3,0.26)(1996.1,0.25)(1996.7,0.25)(1996.8,0.19)
(1992.9,0.16)(1993.6,0.13)(1992.5,0.12)(1993.7,0.10)(1992.8,0.09)(1992.6,0.07)(1993.9,0.06)(1992.8,0.03)(1994.1,0.02)(1992.7,0.00)
(1990.2,0.77)(1995.0,0.78)(1998.1,0.90)(2002.1,0.89)(1998.4,0.77)(2007.0,0.95)(2010.1,0.91)(2010.2,0.85)
(1998.3,0.69)(1998.5,0.68)(1998.6,0.66)(1997.8,0.65)(1999.0,0.65)(1998.2,0.63)(1997.8,0.62)(1998.0,0.60)(1998.0,0.59)(1999.0,0.56)(1997.3,0.53)(1997.7,0.53)(1996.8,0.41)(1997.6,0.41)(1996.9,0.40)(1998.7,0.44)(1998.7,0.42)(1997.1,0.38)(1997.3,0.36)(1997.5,0.35)(1999.1,0.34)(1999.3,0.32)(1999.4,0.31)(1999.6,0.31)(2000.8,0.32)(2001.0,0.29)(2000.8,0.28)
(1999.9,0.43)(2001.1,0.43)(1999.7,0.41)(2000.7,0.42)(2000.7,0.40)(2000.5,0.38)(1999.8,0.38)(1999.4,0.37)(2000.3,0.36)(2000.0,0.23)
(2002.0,0.75)(2001.8,0.69)(2003.0,0.73)(2003.7,0.74)(2003.9,0.73)(2004.1,0.72)(2005.7,0.75)(2005.7,0.74)(2005.1,0.72)(2005.8,0.71)(2004.9,0.70)(2005.2,0.69)(2006.1,0.69)(2006.7,0.70)(2007.1,0.70)(2007.2,0.69)(2007.0,0.73)(2007.3,0.73)(2008.2,0.73)
(2003.6,0.65)(2003.6,0.64)(2004.3,0.64)(2004.7,0.64)(2005.3,0.66)(2005.9,0.65)(2006.4,0.64)(2002.3,0.63)(2002.6,0.62)(2002.5,0.61)(2001.5,0.60)(2003.3,0.60)(2004.3,0.62)(2005.4,0.63)(2005.4,0.62)(2005.6,0.60)(2006.7,0.61)(2006.8,0.67)(2007.3,0.66)
(2002.9,0.58)(2003.1,0.57)(2004.0,0.58)(2005.1,0.57)(2006.0,0.56)(2001.4,0.56)(2002.2,0.56)(2000.2,0.57)(2000.3,0.56)(2001.2,0.55)(2001.8,0.55)(2002.4,0.55)(2003.1,0.55)(2001.4,0.54)(2001.7,0.53)(2002.5,0.53)(2003.4,0.53)(2003.8,0.52)(2005.0,0.51)(2004.7,0.50)(2006.3,0.50)(2006.5,0.52)(2001.2,0.50)(2001.8,0.50)(2001.6,0.48)(2003.4,0.47)(2002.9,0.43)(2004.6,0.43)(2004.5,0.42)(2004.4,0.38)(2004.5,0.24)
(2007.8,0.54)(2008.9,0.53)(2009.1,0.52)(2009.1,0.51)(2008.3,0.51)(2006.3,0.46)(2007.9,0.46)(2008.4,0.46)(2008.3,0.47)(2008.6,0.44)(2008.1,0.34)(2008.0,0.23)
(2007.5,0.60)(2007.6,0.59)(2008.5,0.59)(2009.3,0.58)(2007.7,0.57)(2009.5,0.69)(2009.6,0.68)(2010.8,0.69)(2009.5,0.66)(2009.4,0.65)(2009.9,0.65)(2008.9,0.64)(2008.8,0.63)(2008.7,0.62)(2009.0,0.61)(2009.8,0.63)(2010.6,0.63)(2010.4,0.62)(2011.2,0.62)(2011.7,0.63)(2012.4,0.63)(2012.6,0.62)(2010.6,0.59)(2011.4,0.57)(2013.3,0.58)(2013.5,0.57)(2011.7,0.56)(2012.1,0.56)(2013.2,0.56)(2014.5,0.56)(2011.7,0.54)(2012.0,0.53)(2012.5,0.53)(2013.3,0.53)(2013.0,0.52)(2014.1,0.52)(2011.2,0.51)(2011.0,0.48)(2012.1,0.48)(2010.9,0.46)(2012.0,0.45)
(2012.2,0.68)(2013.0,0.67)(2013.8,0.67)(2014.0,0.66)(2014.9,0.66)(2013.2,0.65)(2013.4,0.66)(2013.8,0.65)
(2010.1,0.79)(2009.8,0.76)(2010.8,0.77)(2010.0,0.73)(2010.3,0.73)(2011.6,0.71)(2012.3,0.75)(2012.7,0.74)(2012.8,0.73)(2012.7,0.72)(2014.0,0.73)(2015.5,0.71)(2017.4,0.70)
(2013.8,0.78)(2014.2,0.77)(2014.1,0.76)(2014.9,0.77)(2015.5,0.79)(2016.4,0.77)(2015.3,0.75)(2017.7,0.76)(2017.9,0.77)(2018.6,0.78)(2018.9,0.78)(2018.7,0.76)(2018.4,0.74)(2018.6,0.73)
(2014.6,0.81)(2015.0,0.81)(2015.7,0.82)(2016.5,0.82)(2016.9,0.83)(2017.5,0.82)(2018.4,0.81)
(2014.3,0.85)(2014.7,0.88)(2015.1,0.87)(2015.2,0.90)(2016.3,0.91)(2016.8,0.91)(2017.3,0.92)(2016.7,0.88)(2017.3,0.89)(2017.9,0.89)(2018.2,0.91)(2019.1,0.92)(2019.5,0.90)(2018.9,0.89)(2017.5,0.87)(2018.2,0.87)(2019.0,0.87)(2017.7,0.86)(2018.1,0.85)(2019.5,0.86)(2019.4,0.85)
(2016.6,1.00)(2017.0,0.98)(2018.7,0.99)(2019.25,0.97)
(2016.09,1.35)(2016.15,1.31)(2015.99,1.15)(2017.13,1.13)(2019.16,1.11)(2015.91,1.10)(2015.7,1.07)(2016.25,1.07)(2015.82,1.03)
};
\end{axis}
\node[anchor=west,inner sep=0pt,font=\fontsize{10.9}{12}\selectfont\bfseries] at (167,91) {Anomaly (°C)};
% annotation
\fill[annot] (154,283) -- (256,232) -- (256,269) -- (491,269) -- (491,296) -- (256,296) -- (256,333) -- cycle;
\fill[annot] (2436,480) rectangle (2463,1950);
\fill[annot] (2398,1950) -- (2500,1950) -- (2449,2050) -- cycle;
\fill[annot] (491,72) rectangle (2635,493);
\fill[white] (518,99) rectangle (2608,467);
\fill[annot] (491,536) rectangle (2296,783);
\fill[white] (518,562) rectangle (2269,757);
\node[anchor=base west,inner sep=0pt,font=\fontsize{43.1}{52}\selectfont] at (531,250) {Use d3 axis functions to draw x};
\node[anchor=base west,inner sep=0pt,font=\fontsize{43.1}{52}\selectfont] at (531,424) {and y-axes};
\node[anchor=base,inner sep=0pt,font=\fontsize{43.1}{52}\selectfont\bfseries\itshape] at (1402,715) {(demo)};
\end{tikzpicture}
\end{document}
